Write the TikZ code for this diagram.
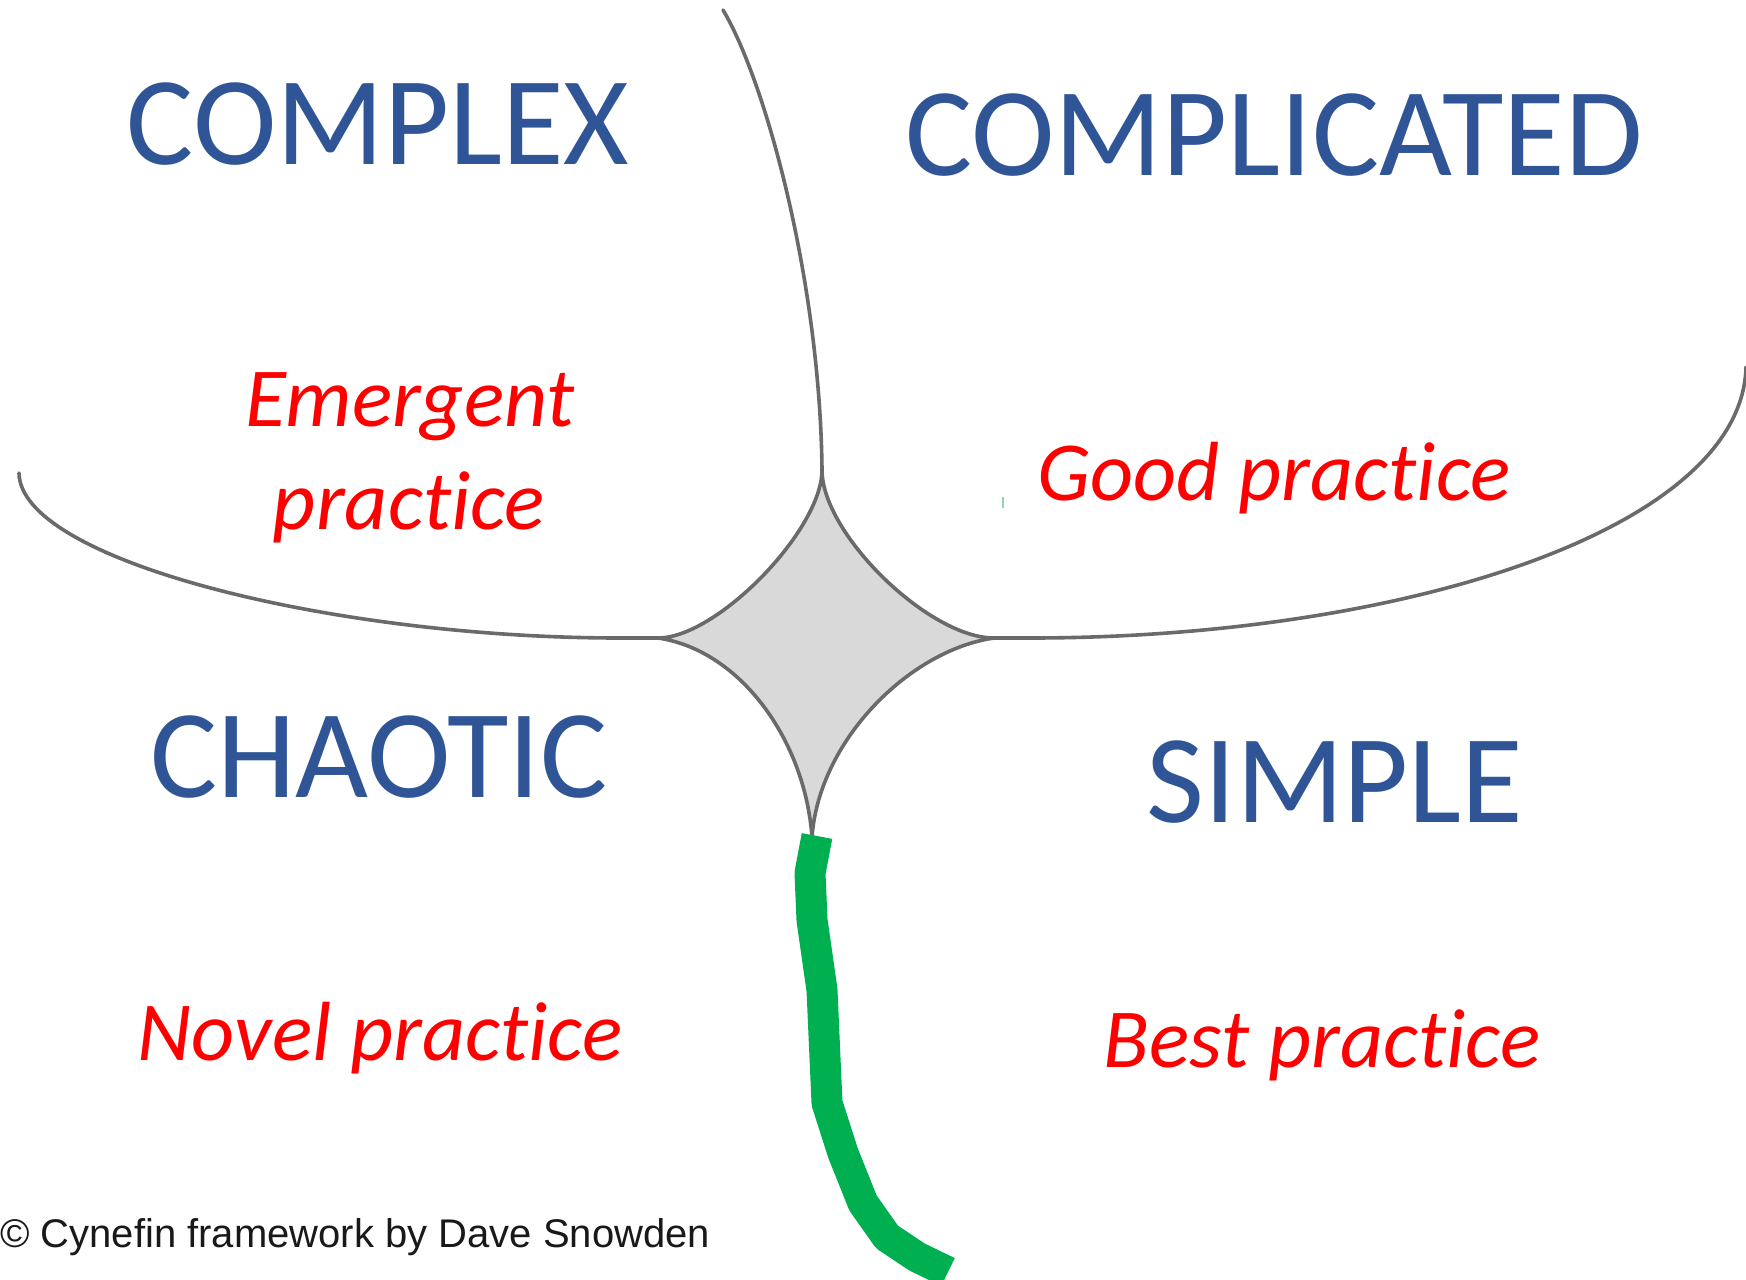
\documentclass[tikz,border=0pt]{standalone}
\usepackage{fontspec}
\setmainfont[Ligatures={NoCommon,NoContextual},Contextuals=NoAlternate]{Carlito}
\newfontfamily\creditfont{Liberation Sans}
\definecolor{domainblue}{HTML}{2F5597}
\definecolor{practicered}{HTML}{FF0000}
\definecolor{edgegray}{HTML}{6A6A6A}
\definecolor{coregray}{HTML}{D9D9D9}
\definecolor{pathgreen}{HTML}{00B050}
\begin{document}
\begin{tikzpicture}[x=1pt,y=-1pt,
  domainlabel/.style={text=domainblue,inner sep=0pt,anchor=base,font=\fontsize{126}{130}\selectfont},
  practicelabel/.style={text=practicered,inner sep=0pt,anchor=base,font=\fontsize{84}{90}\selectfont\itshape},
  boundaryline/.style={draw=edgegray,line width=3.6pt,line cap=round},
  coreregion/.style={boundaryline,fill=coregray,line join=miter},
  greenpath/.style={draw=pathgreen,line width=31pt,line cap=butt,line join=bevel}]
\useasboundingbox (0,0) rectangle (1746,1280);

% tips of the central disorder region
\coordinate (T) at (822,470);
\coordinate (L) at (658,638);
\coordinate (R) at (994,638);
\coordinate (B) at (812,837);
% free ends of the boundary lines
\coordinate (topend) at (723,10);
\coordinate (leftend) at (19,473);
\coordinate (leftjoin) at (620,638);
\coordinate (rightjoin) at (1030,638);
\coordinate (rightend) at (1746,367);

% boundary lines between the domains
\draw[boundaryline] (topend) .. controls (765,80) and (820,280) .. (T);
\draw[boundaryline] (leftend) .. controls (20,560) and (330,638) .. (leftjoin) -- (L);
\draw[boundaryline] (R) -- (rightjoin) .. controls (1400,638) and (1742,530) .. (rightend);

% central region
\filldraw[coreregion] (T) .. controls (822,534) and (929,638) .. (R)
  .. controls (910,650) and (819,740) .. (B)
  .. controls (805,740) and (740,650) .. (L)
  .. controls (717,638) and (822,530) .. (T) -- cycle;

% green path leaving the simple domain
\coordinate (g0) at (817,836);
\coordinate (g9) at (948,1272);
\draw[greenpath] (g0) -- (810,873) -- (812,920) -- (822,990) -- (827,1103)
  -- (843,1153) -- (863,1203) -- (887,1237) -- (917,1257) -- (g9);
\coordinate (tick) at (1003,497);
\draw[draw=pathgreen!45,line width=2.5pt] (tick) -- ++(0,11);

% domain names
\node[domainlabel] (complex) at (378,164) {COMPLEX};
\node[domainlabel] (complicated) at (1274,175) {COMPLICATED};
\node[domainlabel] (chaotic) at (379,797) {CHAOTIC};
\node[domainlabel] (simple) at (1335,822) {SIMPLE};

% practices
\node[practicelabel] (emergent) at (410,426) {Emergent};
\node[practicelabel] (emergent2) at (409,529) {practice};
\node[practicelabel] (good) at (1274,500) {Good practice};
\node[practicelabel] (novel) at (380,1060) {Novel practice};
\node[practicelabel] (best) at (1322,1067) {Best practice};

% credit line
\node[inner sep=0pt,anchor=base west,text=black!90,font=\creditfont\fontsize{40}{44}\selectfont] (credit) at (0,1247) {© Cynefin framework by Dave Snowden};
\end{tikzpicture}
\end{document}
